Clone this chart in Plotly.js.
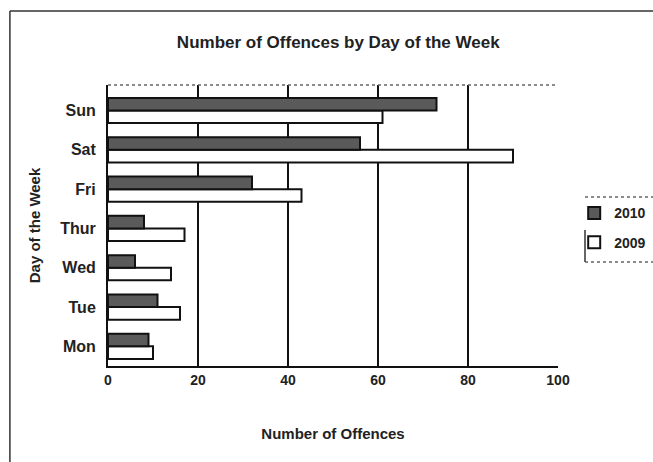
<!DOCTYPE html>
<html>
<head>
<meta charset="utf-8">
<script src="https://cdn.plot.ly/plotly-3.0.1.min.js"></script>
<style>html,body{margin:0;padding:0;background:#fff;}#chart{width:653px;height:462px;}</style>
</head>
<body>
<div id="chart"></div>
<script>
var days = ['Mon', 'Tue', 'Wed', 'Thur', 'Fri', 'Sat', 'Sun'];
var values2010 = [9, 11, 6, 8, 32, 56, 73];
var values2009 = [10, 16, 14, 17, 43, 90, 61];
var xTicks = [0, 20, 40, 60, 80, 100];
var gridTicks = [20, 40, 60, 80];

var FONT = 'Liberation Sans, Arial, sans-serif';

var traces = [
  {
    type: 'bar', orientation: 'h', name: '2009', legendgroup: 'a', legendrank: 2,
    y: days, x: values2009,
    marker: {color: '#ffffff', line: {color: '#111111', width: 2}}
  },
  {
    type: 'bar', orientation: 'h', name: '2010', legendgroup: 'b', legendrank: 1,
    y: days, x: values2010,
    marker: {color: '#5a5a5a', line: {color: '#111111', width: 2}}
  }
];

var layout = {
  width: 653, height: 462,
  margin: {l: 108, r: 95, t: 85, b: 96, autoexpand: false},
  paper_bgcolor: '#ffffff', plot_bgcolor: '#ffffff',
  font: {family: FONT, color: '#222222', size: 14},
  barmode: 'group', bargap: 0.36, bargroupgap: 0,
  showlegend: true,
  title: {
    text: 'Number of Offences by Day of the Week',
    font: {family: FONT, size: 17, weight: 'bold', color: '#222222'},
    x: 0.518, xanchor: 'center', y: 0.909, yanchor: 'middle', yref: 'container'
  },
  xaxis: {
    range: [0, 100], tickvals: xTicks, ticktext: xTicks.map(String),
    showgrid: false, zeroline: false,
    showline: true, linecolor: '#111111', linewidth: 2,
    ticks: '', tickfont: {family: FONT, size: 14, weight: 'bold', color: '#222222'},
    minor: {tickvals: gridTicks, showgrid: true, gridcolor: '#111111', gridwidth: 2, ticks: ''},
    title: {text: 'Number of Offences', font: {family: FONT, size: 15, weight: 'bold', color: '#222222'}, standoff: 42},
    automargin: false,
    fixedrange: true
  },
  yaxis: {
    type: 'category', categoryorder: 'array', categoryarray: days,
    range: [-0.5, 6.65],
    showgrid: false, zeroline: false,
    showline: true, linecolor: '#111111', linewidth: 2,
    ticks: '', ticklabelstandoff: 7,
    tickfont: {family: FONT, size: 16, weight: 'bold', color: '#222222'},
    title: {text: 'Day of the Week', font: {family: FONT, size: 15, weight: 'bold', color: '#222222'}, standoff: 16},
    automargin: false,
    fixedrange: true
  },
  legend: {
    x: 1.036, xanchor: 'left', y: 0.60, yanchor: 'top',
    traceorder: 'grouped', tracegroupgap: 8,
    font: {family: FONT, size: 14, weight: 'bold', color: '#222222'},
    borderwidth: 0, bgcolor: 'rgba(0,0,0,0)',
    itemwidth: 30
  },
  shapes: [
    {type: 'line', xref: 'paper', yref: 'paper', x0: 0, x1: 1, y0: 1, y1: 1,
     line: {color: '#666666', width: 1.5, dash: 'dot'}},
    {type: 'line', xref: 'paper', yref: 'paper', x0: -0.218, x1: 1.3, y0: 1.263, y1: 1.263,
     line: {color: '#333333', width: 1.5}},
    {type: 'line', xref: 'paper', yref: 'paper', x0: -0.218, x1: -0.218, y0: 1.263, y1: -0.4,
     line: {color: '#333333', width: 1.5}},
    {type: 'line', xref: 'paper', yref: 'paper', x0: 1.06, x1: 1.3, y0: 0.601, y1: 0.601,
     line: {color: '#666666', width: 1.5, dash: 'dot'}},
    {type: 'line', xref: 'paper', yref: 'paper', x0: 1.06, x1: 1.06, y0: 0.484, y1: 0.37,
     line: {color: '#333333', width: 1.5}},
    {type: 'line', xref: 'paper', yref: 'paper', x0: 1.06, x1: 1.3, y0: 0.37, y1: 0.37,
     line: {color: '#666666', width: 1.5, dash: 'dot'}}
  ]
};

Plotly.newPlot('chart', traces, layout, {displayModeBar: false, staticPlot: true});
</script>
</body>
</html>
